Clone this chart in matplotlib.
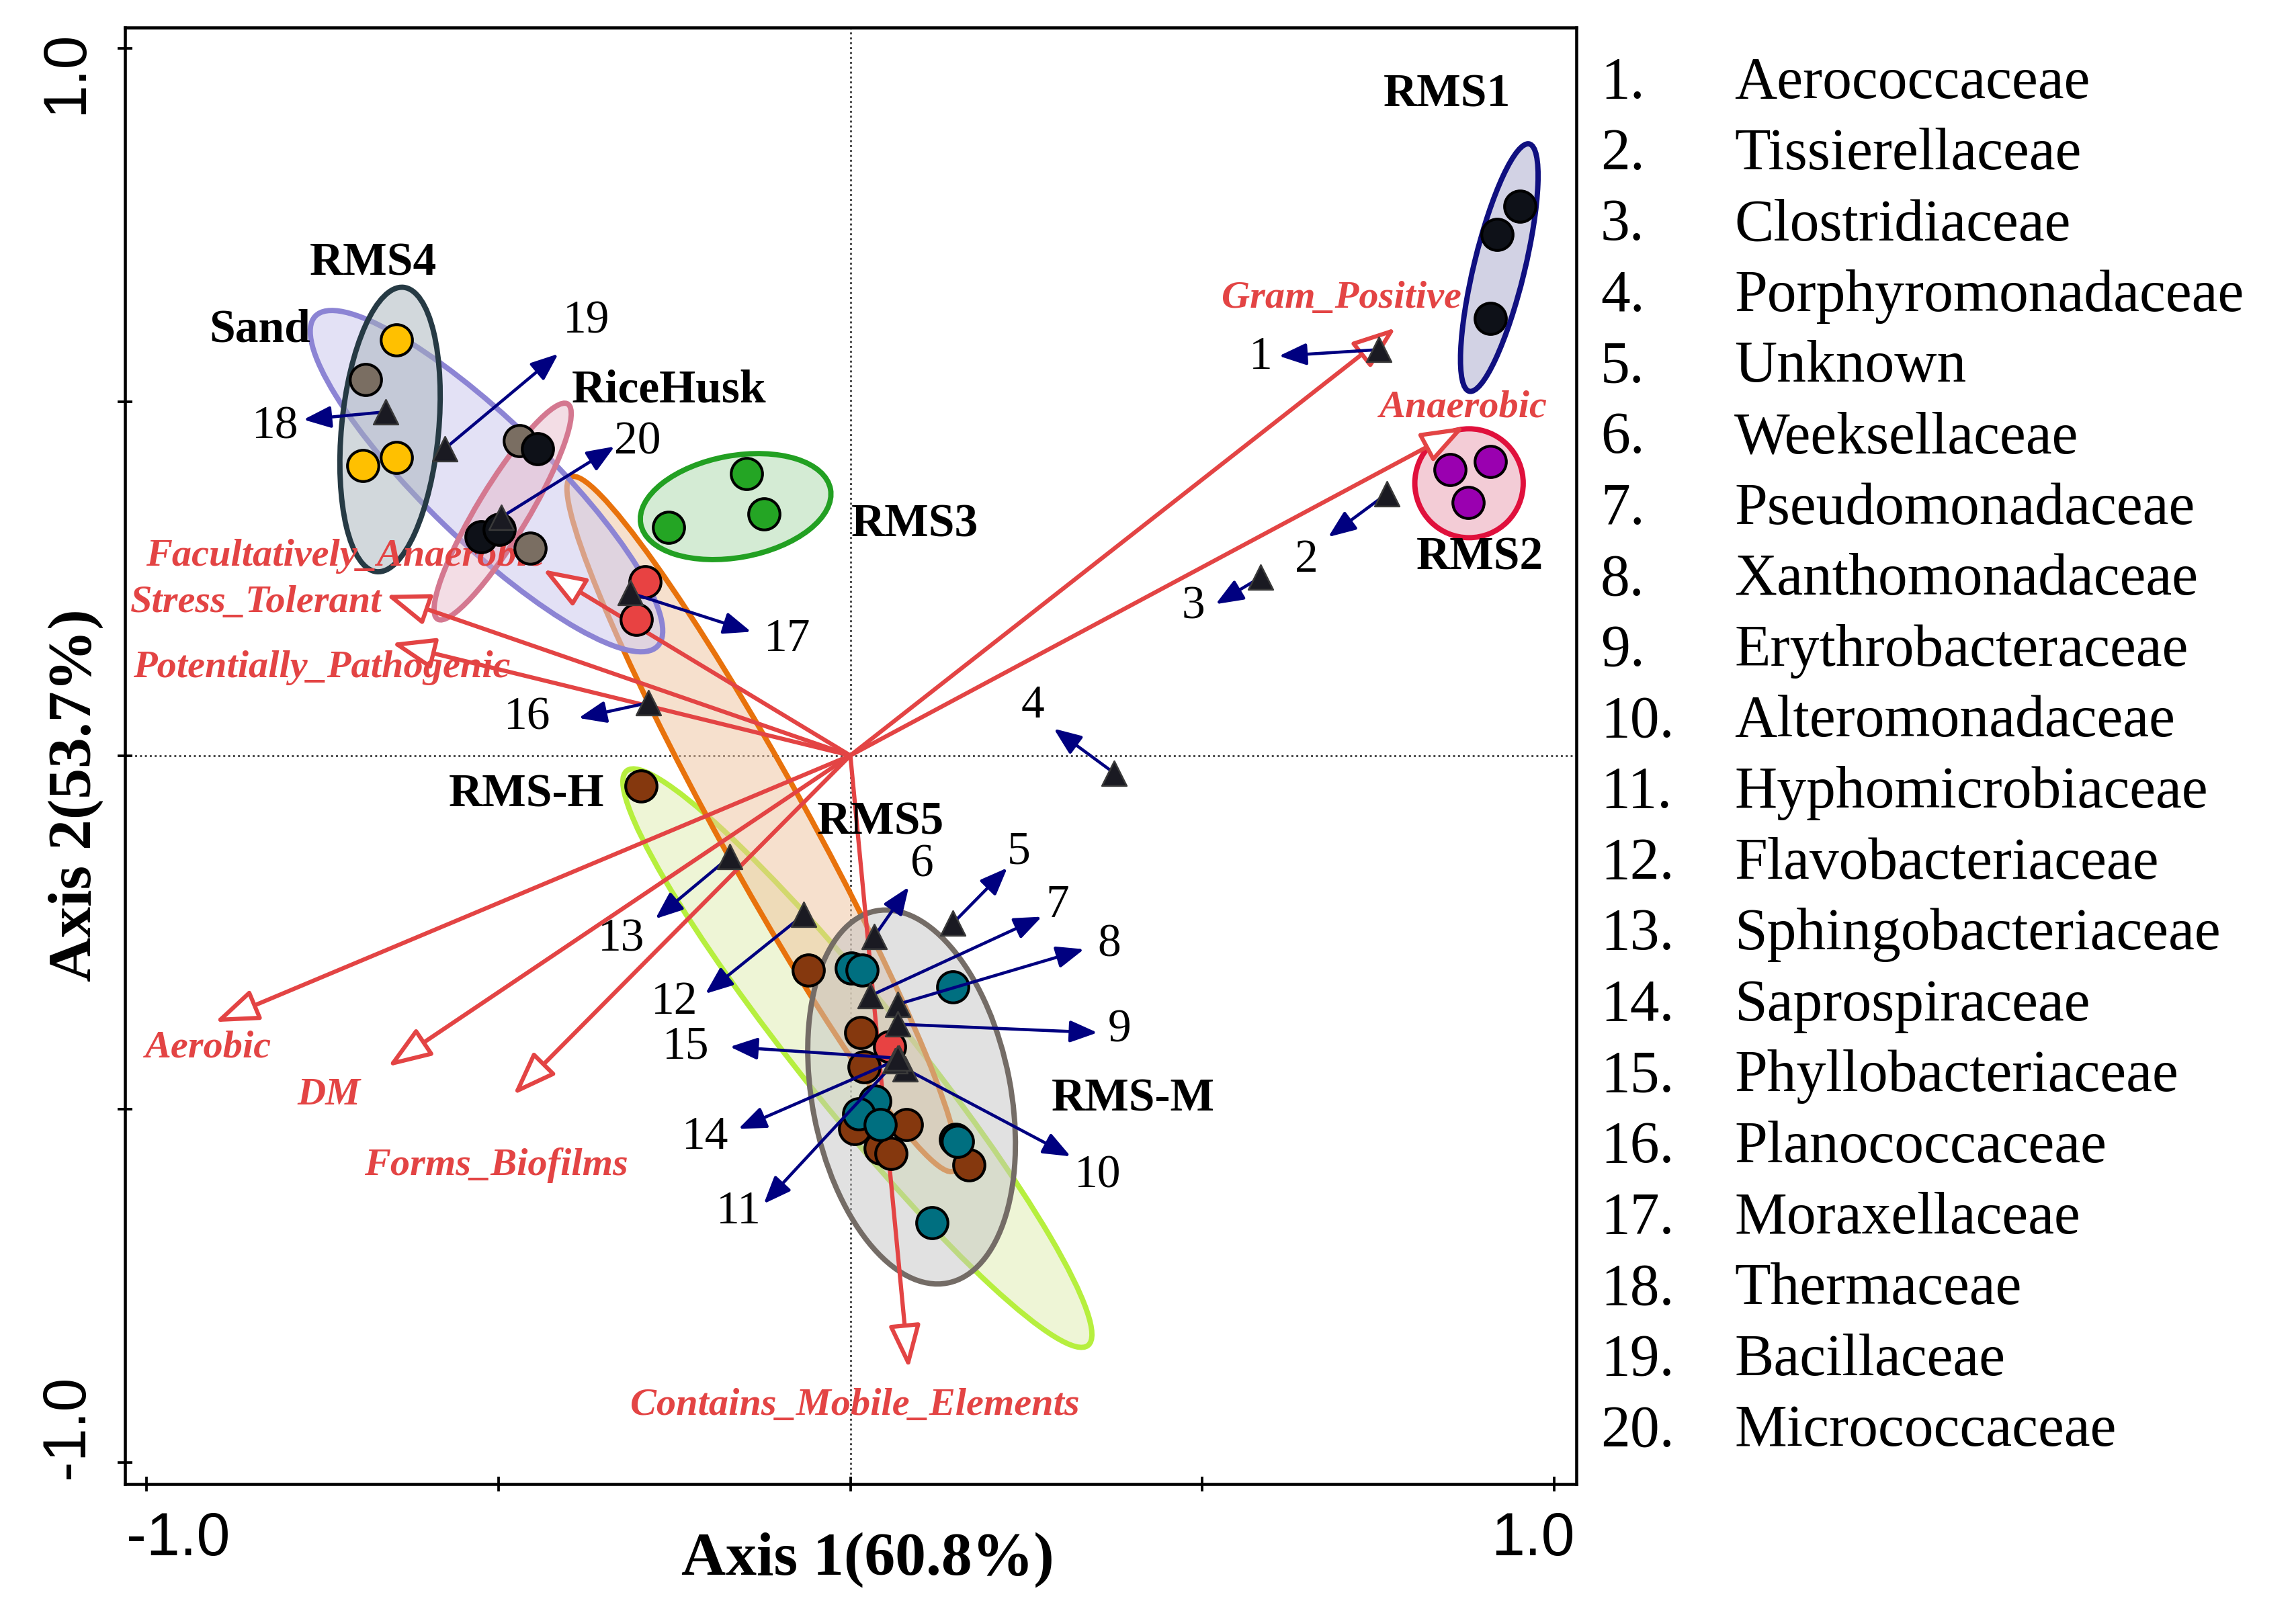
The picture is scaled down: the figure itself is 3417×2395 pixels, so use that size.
import matplotlib
matplotlib.use('Agg')
import matplotlib.pyplot as plt
from matplotlib.patches import Ellipse

plt.rcParams['font.family'] = ['Liberation Serif', 'DejaVu Serif']

# ---------------- sample (site) scores ----------------
sand_x = [-0.645, -0.693, -0.645]
sand_y = [0.588, 0.410, 0.421]
gray_x = [-0.689, -0.470, -0.455]
gray_y = [0.532, 0.445, 0.293]
black_x = [-0.444, -0.525, -0.499]
black_y = [0.434, 0.309, 0.320]
rms1_x = [0.951, 0.919, 0.909]
rms1_y = [0.777, 0.737, 0.618]
rms2_x = [0.852, 0.909, 0.878]
rms2_y = [0.404, 0.416, 0.358]
rms3_x = [-0.148, -0.123, -0.258]
rms3_y = [0.399, 0.342, 0.323]
brown_x = [-0.297, -0.060, 0.015, 0.020, 0.006, 0.080, 0.042, 0.058, 0.168]
brown_y = [-0.043, -0.304, -0.392, -0.440, -0.528, -0.522, -0.555, -0.563, -0.579]
teal_x = [0.001, 0.017, 0.146, 0.035, 0.012, 0.042, 0.149, 0.152, 0.116]
teal_y = [-0.301, -0.304, -0.327, -0.489, -0.507, -0.522, -0.543, -0.546, -0.661]
red_x = [-0.292, -0.304, 0.056]
red_y = [0.246, 0.192, -0.412]

# ---------------- group ellipses ----------------
ell_cx = [0.010, -0.125, 0.087, -0.517, -0.654, -0.494, -0.163, 0.922, 0.879]
ell_cy = [-0.428, -0.097, -0.483, 0.388, 0.461, 0.345, 0.352, 0.690, 0.385]
ell_a = [0.522, 0.561, 0.268, 0.337, 0.202, 0.178, 0.137, 0.180, 0.077]
ell_b = [0.077, 0.064, 0.141, 0.086, 0.069, 0.036, 0.072, 0.036, 0.077]
ell_ang = [-51.1, -61.0, 101.0, -43.8, 84.6, 58.7, 10.3, 76.3, 0.0]

grp_names = ['RMS1', 'RMS2', 'RMS3', 'RMS4', 'Sand', 'RiceHusk', 'RMS-H', 'RMS5', 'RMS-M']
grp_x = [0.848, 0.894, 0.092, -0.678, -0.839, -0.258, -0.460, 0.043, 0.402]
grp_y = [0.934, 0.279, 0.326, 0.696, 0.601, 0.516, -0.056, -0.095, -0.486]

# ---------------- species scores ----------------
sp_ids = [str(i) for i in range(1, 21)]
sp_x = [0.751, 0.762, 0.583, 0.375, 0.146, 0.034, 0.028, 0.067, 0.067, 0.078,
        0.069, -0.066, -0.171, 0.063, 0.067, -0.287, -0.313, -0.660, -0.576, -0.496]
sp_y = [0.574, 0.370, 0.252, -0.025, -0.237, -0.256, -0.340, -0.352, -0.380, -0.443,
        -0.428, -0.225, -0.143, -0.432, -0.428, 0.0745, 0.230, 0.486, 0.434, 0.337]
sp_end_x = [0.609, 0.679, 0.519, 0.289, 0.223, 0.083, 0.272, 0.332, 0.351, 0.313,
            -0.123, -0.206, -0.277, -0.159, -0.171, -0.386, -0.141, -0.777, -0.415, -0.335]
sp_end_y = [0.565, 0.309, 0.214, 0.038, -0.159, -0.186, -0.228, -0.274, -0.392, -0.567,
            -0.634, -0.337, -0.231, -0.528, -0.412, 0.053, 0.175, 0.475, 0.568, 0.437]
sp_lab_x = [0.583, 0.648, 0.487, 0.259, 0.239, 0.102, 0.294, 0.368, 0.382, 0.351,
            -0.159, -0.250, -0.325, -0.206, -0.234, -0.459, -0.090, -0.817, -0.375, -0.302]
sp_lab_y = [0.563, 0.276, 0.210, 0.070, -0.137, -0.155, -0.213, -0.268, -0.389, -0.595,
            -0.646, -0.349, -0.261, -0.540, -0.413, 0.053, 0.164, 0.464, 0.614, 0.443]

families = ['Aerococcaceae', 'Tissierellaceae', 'Clostridiaceae', 'Porphyromonadaceae',
            'Unknown', 'Weeksellaceae', 'Pseudomonadaceae', 'Xanthomonadaceae',
            'Erythrobacteraceae', 'Alteromonadaceae', 'Hyphomicrobiaceae',
            'Flavobacteriaceae', 'Sphingobacteriaceae', 'Saprospiraceae',
            'Phyllobacteriaceae', 'Planococcaceae', 'Moraxellaceae', 'Thermaceae',
            'Bacillaceae', 'Micrococcaceae']

# ---------------- trait vectors ----------------
trait_names = ['Gram_Positive', 'Anaerobic', 'Facultatively_Anaerobic', 'Stress_Tolerant',
               'Potentially_Pathogenic', 'Aerobic', 'DM', 'Forms_Biofilms',
               'Contains_Mobile_Elements']
trait_x = [0.775, 0.873, -0.437, -0.660, -0.652, -0.903, -0.657, -0.479, 0.083]
trait_y = [0.605, 0.465, 0.263, 0.227, 0.159, -0.377, -0.440, -0.480, -0.867]
trait_lab_x = [0.698, 0.870, -0.718, -0.844, -0.751, -0.913, -0.741, -0.503, 0.006]
trait_lab_y = [0.647, 0.492, 0.282, 0.216, 0.124, -0.413, -0.480, -0.580, -0.919]

# ---------------- styles ----------------
RED = '#e34444'
NAVY = '#000080'
ell_ec = ['#b6ef3e', '#e8720c', '#746c66', '#8c84d4', '#263a44', '#d47890', '#22a022', '#101080', '#e0103c']
ell_fc = [('#e4efbc', 0.6), ('#efc29c', 0.5), ('#c4c4c4', 0.5), ('#cdc9ee', 0.55),
          ('#a6b2ba', 0.5), ('#e6b4c6', 0.45), ('#aad8aa', 0.5), ('#b4b4d2', 0.6), ('#ecaabc', 0.6)]

fig = plt.figure(figsize=(3417 / 300, 2395 / 300), dpi=300)
ax = fig.add_axes([186 / 3417, 1 - 2209 / 2395, (2346 - 186) / 3417, (2209 - 41) / 2395])
ax.set_xlim(-1.0306, 1.0315)
ax.set_ylim(-1.0304, 1.0295)

for s in ax.spines.values():
    s.set_linewidth(1.1)
ax.set_xticks([-1, -0.5, 0, 0.5, 1])
ax.set_yticks([-1, -0.5, 0, 0.5, 1])
ax.tick_params(direction='inout', length=5.5, width=0.9, labelbottom=False, labelleft=False)

ax.axhline(0, color='#444444', lw=0.7, ls=(0, (1, 1.5)), zorder=0.5)
ax.axvline(0, color='#444444', lw=0.7, ls=(0, (1, 1.5)), zorder=0.5)

# ellipses
for i in range(len(ell_cx)):
    e = Ellipse((ell_cx[i], ell_cy[i]), 2 * ell_a[i], 2 * ell_b[i], angle=ell_ang[i],
                facecolor=ell_fc[i], edgecolor=ell_ec[i], lw=1.9, zorder=1 + 0.01 * i)
    ax.add_patch(e)

# trait arrows
for i in range(len(trait_names)):
    ax.annotate('', xy=(trait_x[i], trait_y[i]), xytext=(0, 0),
                arrowprops=dict(arrowstyle='-|>,head_length=0.6,head_width=0.22',
                                mutation_scale=22, fc='white', ec=RED, lw=1.5,
                                shrinkA=0, shrinkB=0), zorder=3)
    ax.text(trait_lab_x[i], trait_lab_y[i], trait_names[i], color=RED, fontsize=14,
            fontweight='bold', fontstyle='italic', ha='center', va='center', zorder=3.5)

# sample points
pt_kw = dict(s=125, edgecolors='black', linewidths=1.0, zorder=4)
ax.scatter(sand_x, sand_y, c='#ffc000', **pt_kw)
ax.scatter(gray_x, gray_y, c='#7a6e62', **pt_kw)
ax.scatter(black_x, black_y, c='#0e1118', **pt_kw)
ax.scatter(rms1_x, rms1_y, c='#0e1118', **pt_kw)
ax.scatter(rms2_x, rms2_y, c='#9a00b0', **pt_kw)
ax.scatter(rms3_x, rms3_y, c='#24a524', **pt_kw)
ax.scatter(brown_x, brown_y, c='#85380e', **pt_kw)
ax.scatter(teal_x, teal_y, c='#006f80', **pt_kw)
ax.scatter(red_x, red_y, c='#e84242', **pt_kw)

# species arrows
for i in range(len(sp_ids)):
    ax.annotate('', xy=(sp_end_x[i], sp_end_y[i]), xytext=(sp_x[i], sp_y[i]),
                arrowprops=dict(arrowstyle='-|>,head_length=0.55,head_width=0.22',
                                mutation_scale=15, color=NAVY, lw=1.1,
                                shrinkA=0, shrinkB=0), zorder=5)
    ax.text(sp_lab_x[i], sp_lab_y[i], sp_ids[i], fontsize=16.7, ha='center',
            va='center', zorder=6)
ax.scatter(sp_x, sp_y, marker='^', s=78, c='#1a1a22', edgecolors='#3a3a3a',
           linewidths=0.6, zorder=5.5)

# group labels
for i in range(len(grp_names)):
    ax.text(grp_x[i], grp_y[i], grp_names[i], fontsize=16.7, fontweight='bold',
            ha='center', va='center', zorder=6)

# tick labels (sans)
tk = dict(fontsize=21.5, family=['Liberation Sans', 'DejaVu Sans'], ha='center',
          va='center', clip_on=False)
ax.text(-0.955, -1.109, '-1.0', **tk)
ax.text(0.970, -1.109, '1.0', **tk)
ax.text(-1.1136, 0.966, '1.0', rotation=90, **tk)
ax.text(-1.1126, -0.949, '-1.0', rotation=90, **tk)

# axis titles
ax.text(0.025, -1.137, 'Axis 1(60.8%)', fontsize=22, fontweight='bold', ha='center',
        va='center', clip_on=False)
ax.text(-1.101, -0.056, 'Axis 2(53.7%)', fontsize=22, fontweight='bold', ha='center',
        va='center', rotation=90, clip_on=False)

# family key
for i, name in enumerate(families):
    yb = 1 - (146 + i * 105.6) / 2395
    fig.text(2382 / 3417, yb, f'{i + 1}.', fontsize=21, ha='left', va='baseline')
    fig.text(2581 / 3417, yb, name, fontsize=21, ha='left', va='baseline')

fig.savefig('out.png', dpi=300)
